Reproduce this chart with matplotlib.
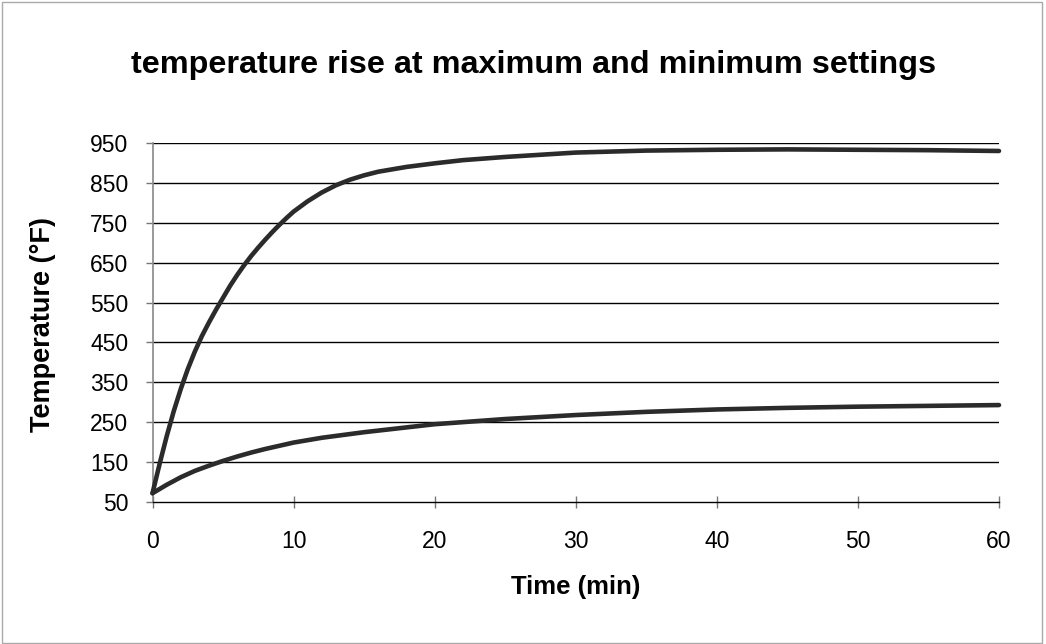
import matplotlib
matplotlib.use("Agg")
import matplotlib.pyplot as plt
from matplotlib.patches import Rectangle

plt.rcParams['font.family'] = ['Liberation Sans', 'DejaVu Sans']

# Data
time_max = [0, 0.5, 1, 1.5, 2, 2.5, 3, 3.5, 4, 4.5, 5, 5.5, 6, 6.5, 7, 7.5, 8, 8.5, 9, 9.5, 10,
            11, 12, 13, 14, 15, 16, 18, 20, 22, 25, 30, 35, 40, 45, 50, 55, 60]
temp_max = [72, 145, 214, 277, 333, 383, 427, 466, 500, 532, 562, 592, 619, 644, 667, 688, 708, 727, 745, 762, 778,
            804, 826, 844, 858, 869, 878, 890, 899, 907, 915, 926, 931, 933, 934, 933, 932, 930]

time_min = [0, 1, 2, 3, 4, 5, 6, 7, 8, 10, 12, 15, 20, 25, 30, 35, 40, 45, 50, 55, 60]
temp_min = [72, 93, 112, 128, 141, 153, 164, 174, 183, 199, 211, 225, 245, 258, 268, 276, 282, 286, 289, 291, 293]

title = "temperature rise at maximum and minimum settings"
xlabel = "Time (min)"
ylabel = "Temperature (°F)"
xticks = [0, 10, 20, 30, 40, 50, 60]
yticks = [50, 150, 250, 350, 450, 550, 650, 750, 850, 950]

fig = plt.figure(figsize=(10.46, 6.44), dpi=100)
ax = fig.add_axes([152.5/1046, 1-502/644, (999-152.5)/1046, (502-143)/644])

ax.set_xlim(0, 60)
ax.set_ylim(50, 950)
ax.set_xticks(xticks)
ax.set_yticks(yticks)
ax.set_xticklabels([str(v) for v in xticks], fontsize=16.5)
ax.set_yticklabels([str(v) for v in yticks], fontsize=16.5)

for y in yticks[1:]:
    ax.axhline(y, color='black', lw=1.0, zorder=1)

ax.plot(time_max, temp_max, color='#2b2b2b', lw=3.3, solid_capstyle='round', solid_joinstyle='round', zorder=3, clip_on=False)
ax.plot(time_min, temp_min, color='#2b2b2b', lw=3.3, solid_capstyle='round', solid_joinstyle='round', zorder=3, clip_on=False)

for s in ['top', 'right']:
    ax.spines[s].set_visible(False)
ax.spines['left'].set_color('#888888')
ax.spines['left'].set_linewidth(1.2)
ax.spines['bottom'].set_color('black')
ax.spines['bottom'].set_linewidth(1.0)

ax.tick_params(axis='y', direction='out', length=5, width=1, color='#777777', pad=12.5)
ax.tick_params(axis='x', direction='inout', length=9, width=1, color='#777777', pad=16)

ax.set_xlabel(xlabel, fontsize=18.5, fontweight='bold')
ax.set_ylabel(ylabel, fontsize=19.5, fontweight='bold')
ax.xaxis.set_label_coords(0.5, (502-587)/359)
ax.xaxis.label.set_verticalalignment('center')
ax.yaxis.set_label_coords((43-152.5)/846.5, (502-325)/359)
ax.yaxis.label.set_verticalalignment('center')

fig.text(534/1046, 1-65/644, title, ha='center', va='center', fontsize=23.3, fontweight='bold')

fig.patches.append(Rectangle((0.002, 0.002), 0.994, 0.995, transform=fig.transFigure,
                             fill=False, edgecolor='#aaaaaa', lw=1.0))

fig.savefig('out.png', dpi=100)
